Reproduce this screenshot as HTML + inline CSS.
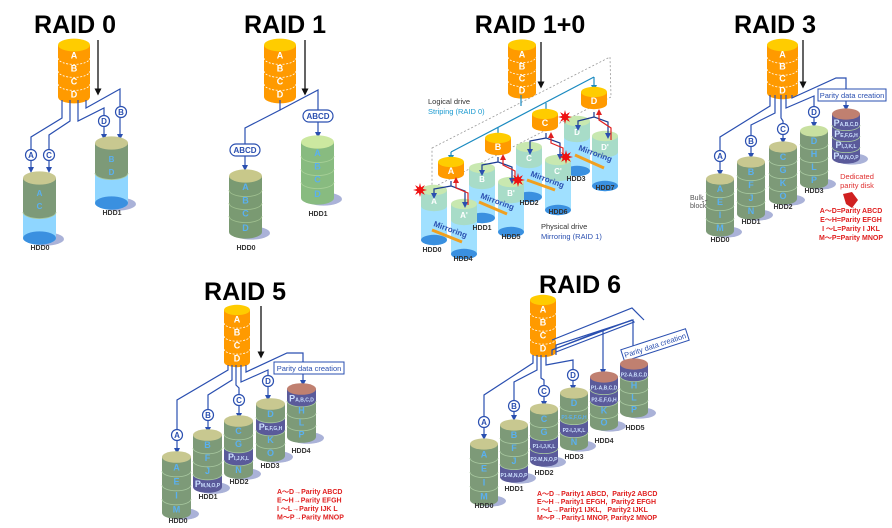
<!DOCTYPE html>
<html><head><meta charset="utf-8"><style>
html,body{margin:0;padding:0;background:#fff;}
svg{display:block;font-family:"Liberation Sans",sans-serif;}
</style></head><body>
<svg id="s" width="892" height="528" viewBox="0 0 892 528" xmlns="http://www.w3.org/2000/svg">
<defs>
<marker id="ab" markerWidth="6" markerHeight="6" refX="3" refY="3" orient="auto" markerUnits="userSpaceOnUse"><path d="M0,0 L6,3 L0,6 Z" fill="#2a4fb0"/></marker>
<marker id="ak" markerWidth="7" markerHeight="7" refX="3.5" refY="3.5" orient="auto" markerUnits="userSpaceOnUse"><path d="M0,0 L7,3.5 L0,7 Z" fill="#111"/></marker>
<marker id="ar" markerWidth="6" markerHeight="6" refX="3" refY="3" orient="auto" markerUnits="userSpaceOnUse"><path d="M0,0 L6,3 L0,6 Z" fill="#e02020"/></marker>
<marker id="at" markerWidth="6" markerHeight="6" refX="3" refY="3" orient="auto" markerUnits="userSpaceOnUse"><path d="M0,0 L6,3 L0,6 Z" fill="#1a8ac0"/></marker>
</defs>
<g id="g"></g>
</svg>
<script>
var o='';
function shape(x,w,ry,y0,y1,c){return '<path d="M'+x+','+y0+' L'+x+','+y1+' A'+(w/2)+','+ry+' 0 0 0 '+(x+w)+','+y1+' L'+(x+w)+','+y0+' Z" fill="'+c+'"/>';}
function cyl(x,y,w,top,bands,opt){opt=opt||{};var ry=w*0.2,h=0;bands.forEach(function(b){h+=b[1]});
 var s='';
 if(!opt.noshadow)s+='<ellipse cx="'+(x+w/2+6)+'" cy="'+(y+h+1)+'" rx="'+(w/2+2)+'" ry="'+ry+'" fill="#aab2d8"/>';
 var yy=y,ys=[];bands.forEach(function(b){ys.push([yy,yy+b[1]]);yy+=b[1]});
 for(var i=bands.length-1;i>=0;i--){s+=shape(x,w,ry,y,ys[i][1],bands[i][0]);
   if(i<bands.length-1&&opt.sep)s+='<path d="M'+x+','+ys[i][1]+' A'+(w/2)+','+ry+' 0 0 0 '+(x+w)+','+ys[i][1]+'" fill="none" stroke="'+opt.sep+'" stroke-width="0.8"'+(opt.dash?' stroke-dasharray="2,1.5"':'')+'/>';}
 s+='<ellipse cx="'+(x+w/2)+'" cy="'+y+'" rx="'+(w/2)+'" ry="'+ry+'" fill="'+top+'"/>';
 bands.forEach(function(b,i){if(b[2])s+='<text x="'+(x+w/2)+'" y="'+((ys[i][0]+ys[i][1])/2+ry*0.6+3)+'" text-anchor="middle" font-size="'+(b[4]||9)+'" font-weight="bold" fill="'+(b[3]||'#5ab0f0')+'">'+b[2]+'</text>'});
 o+=s;}
function src(x,y,w,n){var b=[];['A','B','C','D'].forEach(function(l){b.push(['#ff9a00',n,l,'#fff'])});cyl(x,y,w,'#ffcc00',b,{noshadow:1,sep:'#fff',dash:1});}
function T(x,y,t,sz,c,a,w){o+='<text x="'+x+'" y="'+y+'" font-size="'+sz+'" fill="'+(c||'#000')+'" text-anchor="'+(a||'start')+'" font-weight="'+(w||'bold')+'">'+t+'</text>';}
function L(p,c,m,wd,extra){o+='<polyline points="'+p+'" fill="none" stroke="'+(c||'#2a4fb0')+'" stroke-width="'+(wd||1.2)+'"'+(m?' marker-end="url(#'+m+')"':'')+(extra||'')+'/>';}
function C(x,y,t){o+='<circle cx="'+x+'" cy="'+y+'" r="5.5" fill="#fff" stroke="#2a4fb0" stroke-width="1.2"/>';T(x,y+3,t,8,'#2a4fb0','middle');}
function P(x,y,t){o+='<rect x="'+(x-15)+'" y="'+(y-6)+'" width="30" height="12" rx="6" fill="#fff" stroke="#2a4fb0" stroke-width="1.2"/>';T(x,y+3,t,8,'#2a4fb0','middle');}
function H(x,y,t){T(x,y,t,7,'#333','middle');}
function arrowK(x,y0,y1){L(x+','+y0+' '+x+','+y1,'#111','ak',1.3);}
var G='#7d9a78',GT='#c8c890',LB='#8fd6ff',DB='#3a90e0',PU='#5a5a9a',PT='#c08070';
// ===== RAID 0 =====
T(75,33,'RAID 0',25,'#000','middle');
src(58,45,32,13);arrowK(98,40,92);
L('62,100 62,118 31,137 31,149');L('31,161 31,170','#2a4fb0','ab');
L('70,100 70,121 49,135 49,149');L('49,161 49,170','#2a4fb0','ab');
L('78,100 78,121 104,108 104,115');L('104,127 104,137','#2a4fb0','ab');
L('86,100 86,108 120,89 120,106');L('120,118 120,137','#2a4fb0','ab');
C(31,155,'A');C(49,155,'C');C(104,121,'D');C(121,112,'B');
cyl(23,178,33,GT,[[G,34,''],[LB,26,'']],{sep:'#a8c8a0'});
o+='<ellipse cx="39.5" cy="238" rx="16.5" ry="6.6" fill="'+DB+'"/>';
cyl(95,143,33,GT,[[G,30,''],[LB,30,'']],{sep:'#a8c8a0'});
o+='<ellipse cx="111.5" cy="203" rx="16.5" ry="6.6" fill="'+DB+'"/>';
T(39.5,196,'A',8,'#5ab0f0','middle');T(39.5,209,'C',8,'#5ab0f0','middle');
T(111.5,162,'B',8,'#5ab0f0','middle');T(111.5,175,'D',8,'#5ab0f0','middle');
H(40,250,'HDD0');H(112,215,'HDD1');
// ===== RAID 1 =====
T(285,33,'RAID 1',25,'#000','middle');
src(264,45,32,13);arrowK(305,40,92);
L('280,100 280,110 245,128 245,144');L('245,156 245,168','#2a4fb0','ab');
L('280,110 318,90 318,110');L('318,122 318,135','#2a4fb0','ab');
P(245,150,'ABCD');P(318,116,'ABCD');
cyl(229,176,33,'#c8c88a',[['#7a9a72',14,'A'],['#7a9a72',13,'B'],['#7a9a72',13,'C'],['#7a9a72',16,'D']],{sep:'#a0c090'});
cyl(301,142,33,'#cce8a0',[['#88bb80',14,'A'],['#88bb80',13,'B'],['#88bb80',13,'C'],['#88bb80',16,'D']],{sep:'#a8d098'});
H(246,250,'HDD0');H(318,216,'HDD1');
// ===== RAID 1+0 =====
T(530,33,'RAID 1+0',25,'#000','middle');
o+='<polygon points="432,148 610,57 611,97 432,188" fill="none" stroke="#999" stroke-width="0.8" stroke-dasharray="2,2"/>';
src(508,45,28,12);arrowK(541,42,85);
L('521,95 521,106','#1a8ac0');
L('451,152 594,77','#1a8ac0');
[[451,152,158],[498,127,137],[546,103,112],[594,77,88]].forEach(function(a){L(a[0]+','+a[1]+' '+a[0]+','+a[2],'#1a8ac0','at');});
T(428,104,'Logical drive',7.5,'#333','start','normal');T(428,114,'Striping (RAID 0)',7.5,'#1a9ad0','start','normal');
T(541,229,'Physical drive',7.5,'#333','start','normal');T(541,239,'Mirroring (RAID 1)',7.5,'#2a4fb0','start','normal');
function bd(x,y,l,l2){cyl(x,y,26,'#c8e8b0',[['#a8dcc8',16,l,'#fff',8],['#a0e0ff',34,'']],{noshadow:1});o+='<ellipse cx="'+(x+13)+'" cy="'+(y+50)+'" rx="13" ry="5.2" fill="'+DB+'"/>';}
bd(564,121,'D');bd(592,136,"D'");bd(516,147,'C');bd(545,160,"C'");bd(469,168,'B');bd(498,182,"B'");bd(421,190,'A');bd(451,204,"A'");
function disc(x,y,l){cyl(x,y,26,'#ffcc00',[['#ff9a00',12,l,'#fff']],{noshadow:1});}
disc(438,162,'A');disc(485,138,'B');disc(532,114,'C');disc(581,92,'D');
[[451,181,434,186,434,194,'ab'],[498,157,482,162,482,171,'ab'],[546,133,530,138,530,150,'ab'],[594,112,578,118,578,126,'ab']].forEach(function(a){L(a[0]+','+a[1]+' '+a[0]+','+(a[1]+5)+' '+(a[0]+14)+','+(a[1]+10)+' '+(a[0]+14)+','+(a[1]+24),'#1a3a90','ab');L(a[0]+','+(a[1]+5)+' '+a[2]+','+(a[3]+3)+' '+a[4]+','+(a[5]+2),'#1a3a90','ab');});
[[468,205,456,180],[515,183,503,157],[563,160,551,135],[611,140,599,112]].forEach(function(a){L(a[0]+','+a[1]+' '+a[0]+','+(a[1]-12)+' '+a[2]+','+(a[3]+8)+' '+a[2]+','+a[3],'#e02020','ar');});
function mir(x1,y1,x2,y2){L(x1+','+y1+' '+x2+','+y2,'#f0a020','',3);}
mir(432,230,462,242);mir(479,202,507,214);mir(527,180,555,190);mir(575,155,604,168);
o+='<g font-size="8" font-weight="bold" fill="#2a4fb0">';
o+='<text x="433" y="226" transform="rotate(20 433 226)">Mirroring</text><text x="480" y="198" transform="rotate(20 480 198)">Mirroring</text><text x="530" y="176" transform="rotate(20 530 176)">Mirroring</text><text x="578" y="150" transform="rotate(20 578 150)">Mirroring</text></g>';
function star(x,y){var p='';for(var i=0;i<16;i++){var r=i%2?3:7,a=i*Math.PI/8;p+=(x+r*Math.cos(a)).toFixed(1)+','+(y+r*Math.sin(a)).toFixed(1)+' ';}o+='<polygon points="'+p+'" fill="#ee1111"/>';}
star(420,190);star(518,180);star(566,157);star(565,117);
H(432,252,'HDD0');H(463,261,'HDD4');H(482,230,'HDD1');H(511,239,'HDD5');H(529,205,'HDD2');H(558,214,'HDD6');H(576,181,'HDD3');H(605,190,'HDD7');
// ===== RAID 3 =====
T(775,33,'RAID 3',25,'#000','middle');
src(767,45,31,12);arrowK(803,40,85);
L('770,95 770,106 720,137 720,150');L('720,162 720,173','#2a4fb0','ab');
L('775,95 775,113 751,125 751,135');L('751,147 751,156','#2a4fb0','ab');
L('781,95 781,118 783,121 783,123');L('783,135 783,141','#2a4fb0','ab');
L('786,95 786,108 814,96 814,106');L('814,118 814,125','#2a4fb0','ab');
L('792,95 792,98 836,78 846,78 846,89');L('846,101 846,108','#2a4fb0','ab');
C(720,156,'A');C(751,141,'B');C(783,129,'C');C(814,112,'D');
o+='<rect x="818" y="89" width="68" height="12" fill="#fff" stroke="#2a4fb0" stroke-width="1"/>';T(852,98,'Parity data creation',7.5,'#2a4fb0','middle','normal');
function gc(x,y,w,top,ls,bh){var b=ls.map(function(l){return [l[1]||G,bh,l[0],l[2]||'#5ab0f0',l[3]]});cyl(x,y,w,top,b,{sep:'#a8c8a0'});}
gc(706,179,28,'#c8c890',[['A'],['E'],['I'],['M']],13);
gc(737,162,28,'#c8c890',[['B'],['F'],['J'],['N']],13);
gc(769,147,28,'#c8c890',[['C'],['G'],['K'],['O']],13);
gc(800,131,28,'#c8e0a0',[['D'],['H'],['L'],['P']],13);
gc(832,114,28,PT,[['P<tspan font-size="5">A,B,C,D</tspan>',PU,'#cce0ff'],['P<tspan font-size="5">E,F,G,H</tspan>',PU,'#cce0ff'],['P<tspan font-size="5">I,J,K,L</tspan>',PU,'#cce0ff'],['P<tspan font-size="5">M,N,O,P</tspan>',PU,'#cce0ff']],11);
H(720,242,'HDD0');H(751,224,'HDD1');H(783,209,'HDD2');H(814,193,'HDD3');
T(690,200,'Bulk',7,'#555','start','normal');T(690,208,'block',7,'#555','start','normal');
L('702,202 708,200','#555','',0.8,' stroke-dasharray="2,1"');
T(857,179,'Dedicated',7.5,'#e03030','middle','normal');T(857,188,'parity disk',7.5,'#e03030','middle','normal');
o+='<polygon points="843,194 852,192 858,200 852,208 846,204" fill="#d02020"/>';
['A～D=Parity ABCD','E～H=Parity EFGH','I ～L=Parity I JKL','M～P=Parity MNOP'].forEach(function(t,i){T(851,213+i*9,t,7,'#e02020','middle');});
// ===== RAID 5 =====
T(245,300,'RAID 5',25,'#000','middle');
src(224,310,26,13);arrowK(261,306,355);
L('228,365 228,370 177,400 177,429');L('177,441 177,451','#2a4fb0','ab');
L('232,365 232,380 208,395 208,409');L('208,421 208,430','#2a4fb0','ab');
L('236,365 236,385 239,388 239,394');L('239,406 239,416','#2a4fb0','ab');
L('241,365 241,382 268,370 268,375');L('268,387 268,398','#2a4fb0','ab');
L('246,365 246,372 287,353 303,353 303,362');L('303,374 303,383','#2a4fb0','ab');
C(177,435,'A');C(208,415,'B');C(239,400,'C');C(268,381,'D');
o+='<rect x="274" y="362" width="70" height="12" fill="#fff" stroke="#2a4fb0" stroke-width="1"/>';T(309,371,'Parity data creation',7.5,'#2a4fb0','middle','normal');
var sp='<tspan font-size="5">';
gc(162,457,29,'#c8c890',[['A'],['E'],['I'],['M']],14);
gc(193,435,29,'#c8c890',[['B'],['F'],['J'],['P'+sp+'M,N,O,P</tspan>',PU,'#cce0ff']],13);
gc(224,421,29,'#c8c890',[['C'],['G'],['P'+sp+'I,J,K,L</tspan>',PU,'#cce0ff'],['N']],13);
gc(256,404,29,'#c8c890',[['D'],['P'+sp+'E,F,G,H</tspan>',PU,'#cce0ff'],['K'],['O']],13);
gc(287,389,29,PT,[['P'+sp+'A,B,C,D</tspan>',PU,'#cce0ff'],['H'],['L'],['P']],12);
H(178,523,'HDD0');H(208,499,'HDD1');H(239,484,'HDD2');H(270,468,'HDD3');H(301,453,'HDD4');
['A～D→Parity ABCD','E～H→Parity EFGH','I ～L→Parity IJK L','M～P→Parity MNOP'].forEach(function(t,i){T(277,494+i*8.5,t,7,'#e02020');});
// ===== RAID 6 =====
T(580,293,'RAID 6',25,'#000','middle');
src(530,300,26,13);
L('533,355 533,363 484,395 484,416');L('484,428 484,437','#2a4fb0','ab');
L('537,355 537,370 514,382 514,400');L('514,412 514,418','#2a4fb0','ab');
L('541,355 541,378 544,380 544,385');L('544,397 544,404','#2a4fb0','ab');
L('546,355 546,365 573,360 573,369');L('573,381 573,388','#2a4fb0','ab');
L('552,355 552,350 603,330 603,340 603,372','#2a4fb0','ab');
L('556,355 556,345 633,320 633,358','#2a4fb0','ab');
L('552,350 632,320 634,322 556,352');L('552,340 632,308 644,320');
C(484,422,'A');C(514,406,'B');C(544,391,'C');C(573,375,'D');
o+='<g transform="rotate(-18 655 345)"><rect x="621" y="339" width="68" height="12" fill="#fff" stroke="#2a4fb0" stroke-width="1"/><text x="655" y="348" font-size="7.5" fill="#2a4fb0" text-anchor="middle">Parity data creation</text></g>';
var s6='font-size="5"';
gc(470,444,28,'#c8c890',[['A'],['E'],['I'],['M']],14);
gc(500,425,28,'#c8c890',[['B'],['F'],['J'],['<tspan '+s6+'>P1-M,N,O,P</tspan>',PU,'#cce0ff']],13);
gc(530,409,28,'#c8c890',[['C'],['G'],['<tspan '+s6+'>P1-I,J,K,L</tspan>',PU,'#cce0ff'],['<tspan '+s6+'>P2-M,N,O,P</tspan>',PU,'#cce0ff']],13);
gc(560,393,28,'#c8c890',[['D'],['<tspan '+s6+'>P1-E,F,G,H</tspan>'],['<tspan '+s6+'>P2-I,J,K,L</tspan>',PU,'#cce0ff'],['N']],13);
gc(590,377,28,PT,[['<tspan '+s6+'>P1-A,B,C,D</tspan>',PU,'#cce0ff'],['<tspan '+s6+'>P2-E,F,G,H</tspan>',PU,'#cce0ff'],['K'],['O']],12);
gc(620,364,28,PT,[['<tspan '+s6+'>P2-A,B,C,D</tspan>',PU,'#cce0ff'],['H'],['L'],['P']],12);
H(484,508,'HDD0');H(514,491,'HDD1');H(544,475,'HDD2');H(574,459,'HDD3');H(604,443,'HDD4');H(635,430,'HDD5');
['A～D→Parity1 ABCD,&#160;&#160;Parity2 ABCD','E～H→Parity1 EFGH,&#160;&#160;Parity2 EFGH','I ～L→Parity1 IJKL,&#160;&#160;&#160;Parity2 IJKL','M～P→Parity1 MNOP, Parity2 MNOP'].forEach(function(t,i){T(537,496+i*8,t,7,'#e02020');});
document.getElementById('g').innerHTML=o;
</script>
</body></html>
